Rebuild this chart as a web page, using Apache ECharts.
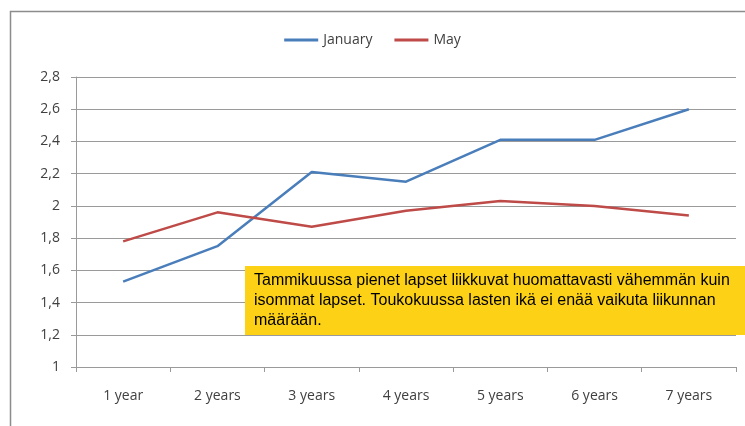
<!DOCTYPE html>
<html>
<head>
<meta charset="utf-8">
<style>
html, body {
  margin: 0;
  padding: 0;
  background: #fff;
}
#chart {
  width: 745px;
  height: 426px;
}
</style>
<script src="https://cdn.jsdelivr.net/npm/echarts@6/dist/echarts.min.js"></script>
</head>
<body>
<div id="chart"></div>
<script>
const categories = ['1 year', '2 years', '3 years', '4 years', '5 years', '6 years', '7 years']
const january = [1.53, 1.75, 2.21, 2.15, 2.41, 2.41, 2.6]
const may = [1.78, 1.96, 1.87, 1.97, 2.03, 2.0, 1.94]
const note = 'Tammikuussa pienet lapset liikkuvat huomattavasti vähemmän kuin\nisommat lapset. Toukokuussa lasten ikä ei enää vaikuta liikunnan\nmäärään.'

const labelFont = "'Open Sans', sans-serif"
const chart = echarts.init(document.getElementById('chart'))

chart.setOption({
  animation: false,
  legend: {
    top: 28,
    left: 'center',
    itemWidth: 34,
    itemHeight: 3,
    itemGap: 22,
    icon: 'rect',
    textStyle: { color: '#404040', fontSize: 14, fontFamily: labelFont },
    data: ['January', 'May']
  },
  grid: {
    left: 76,
    right: 9,
    top: 77,
    bottom: 59,
    containLabel: false
  },
  xAxis: {
    type: 'category',
    data: categories,
    boundaryGap: true,
    axisLine: { lineStyle: { color: '#9a9a9a' } },
    axisTick: { show: true, length: 5, lineStyle: { color: '#9a9a9a' } },
    axisLabel: { color: '#404040', fontSize: 14, fontFamily: labelFont, margin: 22 }
  },
  yAxis: {
    type: 'value',
    min: 1,
    max: 2.8,
    interval: 0.2,
    axisLine: { show: true, lineStyle: { color: '#9a9a9a' } },
    axisTick: { show: true, length: 5, lineStyle: { color: '#9a9a9a' } },
    splitLine: { lineStyle: { color: '#9a9a9a', width: 1 } },
    axisLabel: {
      color: '#404040',
      fontSize: 14,
      fontFamily: labelFont,
      margin: 16,
      formatter: v => String(Math.round(v * 10) / 10).replace('.', ',')
    }
  },
  series: [
    {
      name: 'January',
      type: 'line',
      data: january,
      symbol: 'none',
      lineStyle: { color: '#4a7ebb', width: 2.5 },
      itemStyle: { color: '#4a7ebb' }
    },
    {
      name: 'May',
      type: 'line',
      data: may,
      symbol: 'none',
      lineStyle: { color: '#be4b48', width: 2.5 },
      itemStyle: { color: '#be4b48' }
    }
  ],
  graphic: [
    {
      type: 'rect',
      left: 8,
      top: 9,
      shape: { width: 760, height: 440 },
      style: { fill: 'none', stroke: '#8c8c8c', lineWidth: 1.5 },
      silent: true,
      z: -1
    },
    {
      type: 'rect',
      left: 245,
      top: 266,
      shape: { width: 510, height: 69 },
      style: { fill: '#fcd116' },
      z: 10
    },
    {
      type: 'text',
      left: 254,
      top: 271,
      style: {
        text: note,
        fill: '#000',
        font: "16px 'Liberation Sans', Arial, sans-serif",
        lineHeight: 20
      },
      z: 11
    }
  ]
})
</script>
</body>
</html>
